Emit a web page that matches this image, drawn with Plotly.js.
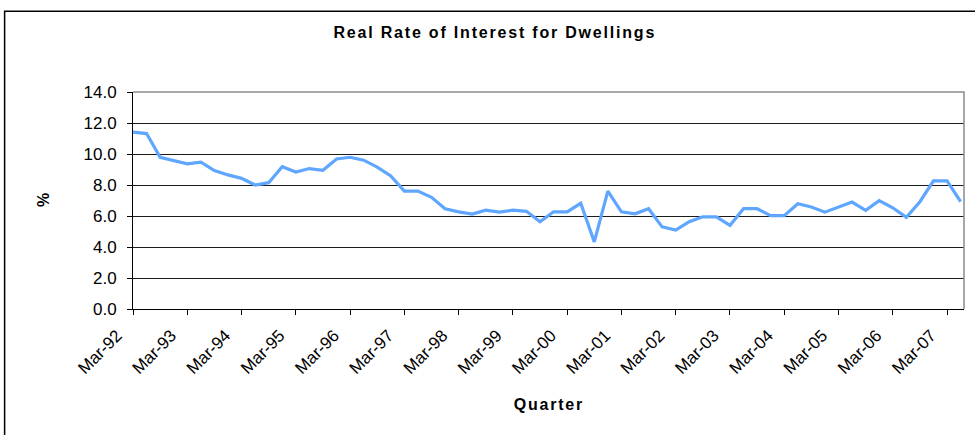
<!DOCTYPE html>
<html>
<head>
<meta charset="utf-8">
<script src="https://cdn.plot.ly/plotly-3.0.1.min.js"></script>
<style>
  html, body { margin: 0; padding: 0; background: #ffffff; }
  #chart { width: 975px; height: 435px; }
  /* Excel-style loose tracking on the titles */
  .spaced text, text.spaced { letter-spacing: 1.8px; }
</style>
</head>
<body>
<div id="chart"></div>
<script>
// Quarterly periods, Mar-92 to Jun-07
const quarters = [
  "Mar-92","Jun-92","Sep-92","Dec-92",
  "Mar-93","Jun-93","Sep-93","Dec-93",
  "Mar-94","Jun-94","Sep-94","Dec-94",
  "Mar-95","Jun-95","Sep-95","Dec-95",
  "Mar-96","Jun-96","Sep-96","Dec-96",
  "Mar-97","Jun-97","Sep-97","Dec-97",
  "Mar-98","Jun-98","Sep-98","Dec-98",
  "Mar-99","Jun-99","Sep-99","Dec-99",
  "Mar-00","Jun-00","Sep-00","Dec-00",
  "Mar-01","Jun-01","Sep-01","Dec-01",
  "Mar-02","Jun-02","Sep-02","Dec-02",
  "Mar-03","Jun-03","Sep-03","Dec-03",
  "Mar-04","Jun-04","Sep-04","Dec-04",
  "Mar-05","Jun-05","Sep-05","Dec-05",
  "Mar-06","Jun-06","Sep-06","Dec-06",
  "Mar-07","Jun-07"
];

// Real rate of interest for dwellings (%)
const realRate = [
  11.41, 11.32, 9.79, 9.57,
  9.36, 9.47, 8.93, 8.65,
  8.43, 8.00, 8.15, 9.18,
  8.84, 9.06, 8.95, 9.68,
  9.79, 9.60, 9.15, 8.58,
  7.61, 7.61, 7.21, 6.47,
  6.27, 6.13, 6.38, 6.25,
  6.38, 6.30, 5.63, 6.27,
  6.27, 6.82, 4.33, 7.61,
  6.27, 6.14, 6.47, 5.30,
  5.09, 5.63, 5.95, 5.95,
  5.39, 6.47, 6.47, 6.02,
  6.02, 6.79, 6.58, 6.25,
  6.58, 6.90, 6.36, 6.99,
  6.53, 5.91, 6.92, 8.26,
  8.26, 6.92
];

// Labelled quarters on the category axis (every March)
const tickQuarters = ["Mar-92","Mar-93","Mar-94","Mar-95","Mar-96","Mar-97","Mar-98",
  "Mar-99","Mar-00","Mar-01","Mar-02","Mar-03","Mar-04","Mar-05","Mar-06","Mar-07"];

const yTicks = [0, 2, 4, 6, 8, 10, 12, 14];

const FONT = "Liberation Sans, Arial, Helvetica, sans-serif";

const trace = {
  x: quarters,
  y: realRate,
  type: "scatter",
  mode: "lines",
  line: { color: "#5fa6ff", width: 3.2 },
  hoverinfo: "x+y",
  showlegend: false
};

const layout = {
  width: 975,
  height: 435,
  margin: { l: 133, r: 11, t: 92, b: 126 },
  paper_bgcolor: "#ffffff",
  plot_bgcolor: "#ffffff",
  font: { family: FONT, color: "#000000", size: 17 },
  xaxis: {
    type: "category",
    range: [0, 61.25],
    tickmode: "array",
    tickvals: tickQuarters,
    ticktext: tickQuarters,
    tickangle: -45,
    ticks: "outside",
    ticklen: 5,
    tickcolor: "#000000",
    ticklabelstandoff: 4,
    ticklabelshift: -16,
    showgrid: false,
    showline: true,
    linecolor: "#000000",
    linewidth: 1,
    zeroline: false,
    tickfont: { family: FONT, size: 17, color: "#000000" },
    fixedrange: true
  },
  yaxis: {
    range: [0, 14],
    tickmode: "array",
    tickvals: yTicks,
    ticktext: yTicks.map(v => v.toFixed(1)),
    ticks: "outside",
    ticklen: 5,
    tickcolor: "#000000",
    ticklabelstandoff: 7,
    showgrid: true,
    gridcolor: "#1a1a1a",
    gridwidth: 1,
    showline: true,
    linecolor: "#000000",
    linewidth: 1,
    zeroline: false,
    tickfont: { family: FONT, size: 17, color: "#000000" },
    fixedrange: true
  },
  shapes: [
    // plot area frame on the top and right
    {
      type: "path", xref: "paper", yref: "paper",
      path: "M 0 1 L 1 1 L 1 0",
      line: { color: "#8c8c8c", width: 1.5 }
    },
    // outer chart frame
    {
      type: "rect", xref: "paper", yref: "paper",
      x0: -0.1545, x1: 1.3, y0: -0.8, y1: 1.372,
      line: { color: "#000000", width: 1.5 },
      layer: "below"
    }
  ],
  annotations: [
    {
      text: "<b>Real Rate of Interest for Dwellings</b>",
      xref: "paper", yref: "paper",
      x: (495 - 133) / 831, y: (309 - 32) / 217,
      xanchor: "center", yanchor: "middle",
      showarrow: false,
      font: { family: FONT, size: 16, color: "#000000" }
    },
    {
      text: "<b>Quarter</b>",
      xref: "paper", yref: "paper",
      x: 0.5, y: (309 - 404) / 217,
      xanchor: "center", yanchor: "middle",
      showarrow: false,
      font: { family: FONT, size: 16, color: "#000000" }
    },
    {
      text: "<b>%</b>",
      xref: "paper", yref: "paper",
      x: (43 - 133) / 831, y: (309 - 200) / 217,
      xanchor: "center", yanchor: "middle",
      textangle: -90,
      showarrow: false,
      font: { family: FONT, size: 16, color: "#000000" }
    }
  ]
};

Plotly.newPlot("chart", [trace], layout, { staticPlot: true, displayModeBar: false }).then(gd => {
  // widen the tracking of the chart and axis titles
  const notes = gd.querySelectorAll(".annotation-text");
  [0, 1].forEach(i => { if (notes[i]) notes[i].classList.add("spaced"); });
});
</script>
</body>
</html>
